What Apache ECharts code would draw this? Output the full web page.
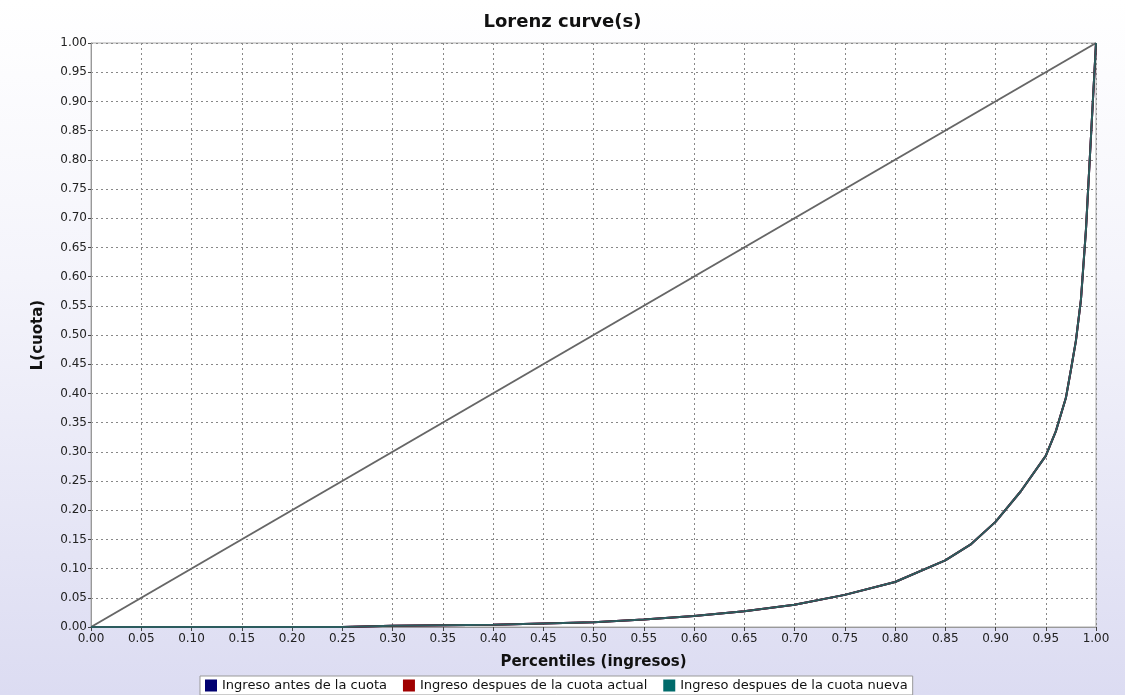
<!DOCTYPE html>
<html><head><meta charset="utf-8">
<script src="https://cdn.jsdelivr.net/npm/echarts@6/dist/echarts.min.js"></script>
<style>
html,body{margin:0;padding:0;width:1125px;height:695px;background:linear-gradient(to bottom,#ffffff 0%,#f4f4fb 40%,#dcdcf2 100%);}
#c{width:1125px;height:695px;}
</style></head><body><div id="c"></div>
<script>
const title = 'Lorenz curve(s)';
const xName = 'Percentiles (ingresos)';
const yName = 'L(cuota)';
const seriesNames = ['Ingreso antes de la cuota','Ingreso despues de la cuota actual','Ingreso despues de la cuota nueva'];
const seriesColors = ['#000070','#a00000','#006b6b'];
const percentiles = [0,0.05,0.10,0.15,0.20,0.25,0.30,0.35,0.40,0.45,0.50,0.55,0.60,0.65,0.70,0.75,0.80,0.85,0.875,0.90,0.925,0.95,0.96,0.97,0.975,0.98,0.985,0.99,0.995,1.0];
const cuotaBefore = [0,0,0,0,0,0,0.002,0.003,0.004,0.006,0.008,0.013,0.019,0.027,0.038,0.055,0.077,0.114,0.141,0.180,0.232,0.293,0.335,0.392,0.44,0.49,0.56,0.68,0.84,1.0];
const cuotaActual = cuotaBefore.slice();
const cuotaNueva = cuotaBefore.slice();
const equality = [[0,0],[1,1]];

const pairs = arr => percentiles.map((p,i)=>[p,arr[i]]);
const font = 'DejaVu Sans';
const chart = echarts.init(document.getElementById('c'));
const axisCommon = {
  type:'value', min:0, max:1, interval:0.05,
  axisLine:{show:true,lineStyle:{color:'#999',width:1}},
  axisTick:{show:true,length:4,lineStyle:{color:'#444'}},
  axisLabel:{color:'#222',fontFamily:font,fontSize:12,formatter:v=>v.toFixed(2)},
  splitLine:{show:true,lineStyle:{color:'#888',type:[2,3],width:1}},
  nameTextStyle:{color:'#111',fontFamily:font,fontSize:15,fontWeight:'bold'}
};
const mk = (name,data,color,z) => ({
  name, type:'line', data, showSymbol:false, symbol:'none', z,
  lineStyle:{color,width:2}, itemStyle:{color}, animation:false
});
chart.setOption({
  animation:false,
  title:{text:title,left:'center',top:8,textStyle:{fontFamily:font,fontSize:18,fontWeight:600,color:'#111'}},
  grid:{left:91,right:29,top:43,bottom:68,show:true,backgroundColor:'#fff',borderColor:'#aaa',borderWidth:1},
  xAxis:Object.assign({},axisCommon,{name:xName,nameLocation:'middle',nameGap:28,axisLabel:Object.assign({},axisCommon.axisLabel,{margin:6})}),
  yAxis:Object.assign({},axisCommon,{name:yName,nameLocation:'middle',nameGap:45,axisLabel:Object.assign({},axisCommon.axisLabel,{margin:4}),axisTick:{show:true,length:3,lineStyle:{color:'#444'}}}),
  legend:{
    data:seriesNames, bottom:0, left:200, icon:'rect', itemWidth:12, itemHeight:12, itemGap:16,
    backgroundColor:'#fff', borderColor:'#999', borderWidth:1, padding:[3,5],
    textStyle:{fontFamily:font,fontSize:13,color:'#111'}
  },
  series:[
    {type:'line',data:equality,showSymbol:false,symbol:'none',lineStyle:{color:'#666',width:2},z:1,silent:true},
    mk(seriesNames[0],pairs(cuotaBefore),seriesColors[0],2),
    mk(seriesNames[1],pairs(cuotaActual),seriesColors[1],3),
    Object.assign(mk(seriesNames[2],pairs(cuotaNueva),seriesColors[2],4),{lineStyle:{color:'#2c5c5e',width:2}})
  ]
});
</script></body></html>
